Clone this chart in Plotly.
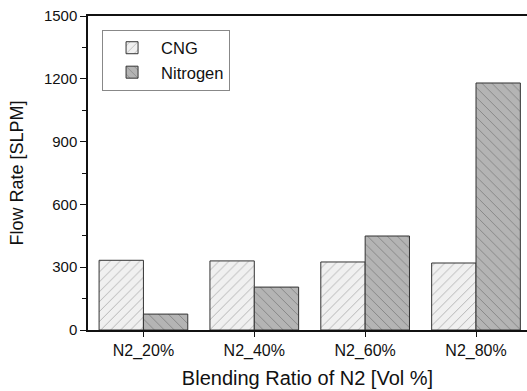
import plotly.graph_objects as go

categories = ["N2_20%", "N2_40%", "N2_60%", "N2_80%"]
cng = [333, 330, 325, 320]
nitrogen = [76, 205, 449, 1180]
y_ticks = [0, 300, 600, 900, 1200, 1500]

font_family = "Liberation Sans, Arial, sans-serif"

fig = go.Figure()
fig.add_trace(go.Bar(
    x=categories, y=cng, name="CNG",
    marker=dict(color="#f0f0f0", line=dict(color="#333333", width=1),
                pattern=dict(shape="/", fgcolor="#7a7a7a", bgcolor="#f0f0f0", size=7, solidity=0.14)),
))
fig.add_trace(go.Bar(
    x=categories, y=nitrogen, name="Nitrogen",
    marker=dict(color="#b4b4b4", line=dict(color="#333333", width=1),
                pattern=dict(shape="\\", fgcolor="#5a5a5a", bgcolor="#b4b4b4", size=7, solidity=0.14)),
))

fig.update_layout(
    width=527, height=391,
    margin=dict(l=88, r=0, t=16, b=61),
    paper_bgcolor="white", plot_bgcolor="white",
    barmode="group", bargap=0.2, bargroupgap=0,
    font=dict(family=font_family, size=15, color="#111111"),
    showlegend=True,
    legend=dict(
        x=0.032, y=0.957, xanchor="left", yanchor="top",
        bordercolor="#888888", borderwidth=1, bgcolor="white",
        font=dict(size=16.5, family=font_family, color="#111111"),
        tracegroupgap=0, itemwidth=48,
    ),
    xaxis=dict(
        range=[-0.5, 3.46],
        showline=True, linecolor="#111111", linewidth=1.5, mirror=True,
        ticks="outside", ticklen=5, tickcolor="#111111",
        tickfont=dict(size=16),
        title=dict(text="Blending Ratio of N2 [Vol %]", font=dict(size=20), standoff=12),
        showgrid=False, zeroline=False,
    ),
    yaxis=dict(
        range=[0, 1500],
        tickvals=y_ticks,
        showline=True, linecolor="#111111", linewidth=1.5,
        ticks="outside", ticklen=6, tickcolor="#111111",
        minor=dict(ticks="outside", ticklen=4, dtick=150, tickcolor="#111111", showgrid=False),
        tickfont=dict(size=15),
        title=dict(text="Flow Rate [SLPM]", font=dict(size=18), standoff=16),
        showgrid=False, zeroline=False,
    ),
)

fig.write_html("out.html")
